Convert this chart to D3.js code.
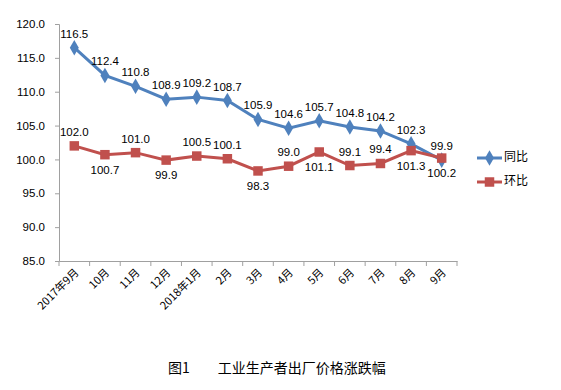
<!DOCTYPE html>
<html><head><meta charset="utf-8">
<script src="https://cdn.jsdelivr.net/npm/d3@7"></script>
<style>body{margin:0;background:#fff}svg{display:block}</style>
</head><body>
<svg id="c" width="561" height="390"></svg>
<script>
const categories = ["2017年9月","10月","11月","12月","2018年1月","2月","3月","4月","5月","6月","7月","8月","9月"];
const yoy = [116.5,112.4,110.8,108.9,109.2,108.7,105.9,104.6,105.7,104.8,104.2,102.3,99.9];
const mom = [102.0,100.7,101.0,99.9,100.5,100.1,98.3,99.0,101.1,99.1,99.4,101.3,100.2];
const momLabelPos = ["a","b","a","b","a","a","b","a","b","a","a","b","b"];
const yTicks = [85,90,95,100,105,110,115,120];
const seriesNames = ["同比","环比"];
const title = "图1\u3000\u3000工业生产者出厂价格涨跌幅";

const svg = d3.select("#c");
const x = d3.scaleBand().domain(categories).range([59,457]);
const y = d3.scaleLinear().domain([85,120]).range([261,24]);
const font = "'Liberation Sans', Arial, sans-serif";
const cjk = "'Noto Sans CJK SC', sans-serif";
const blue = "#4f81bd", red = "#c0504d";

// y axis
const ya = svg.append("g").attr("transform","translate(59,0)")
  .call(d3.axisLeft(y).tickValues(yTicks).tickFormat(d3.format(".1f")).tickSize(4).tickPadding(10));
ya.selectAll("path,line").attr("stroke","#a0a0a0");
ya.selectAll("text").attr("font-family",font).attr("font-size","11.5px").attr("fill","#000");

// x axis
const xa = svg.append("g").attr("transform","translate(0,261)")
  .call(d3.axisBottom(x).tickSize(0).tickFormat(""));
xa.select("path").attr("stroke","#a0a0a0");
const edges = categories.map(c=>x(c)).concat([x.range()[1]]);
svg.append("g").selectAll("line").data(edges).join("line")
  .attr("x1",d=>d).attr("x2",d=>d).attr("y1",261).attr("y2",266).attr("stroke","#a0a0a0");
svg.append("g").selectAll("text").data(categories).join("text")
  .attr("transform",d=>`translate(${x(d)+x.bandwidth()/2+3},${271}) rotate(-45)`)
  .attr("text-anchor","end").attr("dominant-baseline","middle")
  .attr("font-family",cjk).attr("font-size","11px").attr("fill","#000").text(d=>d);

const cx = (d,i)=>x(categories[i])+x.bandwidth()/2;
const line = d3.line().x(cx).y(d=>y(d));

svg.append("path").datum(yoy).attr("d",line).attr("fill","none").attr("stroke",blue).attr("stroke-width",3);
svg.append("path").datum(mom).attr("d",line).attr("fill","none").attr("stroke",red).attr("stroke-width",3);

const diamond = d3.symbol().type(d3.symbolDiamond).size(70);
const square = d3.symbol().type(d3.symbolSquare).size(90);
svg.append("g").selectAll("path").data(yoy).join("path")
  .attr("d",diamond).attr("transform",(d,i)=>`translate(${cx(d,i)},${y(d)})`).attr("fill",blue);
svg.append("g").selectAll("path").data(mom).join("path")
  .attr("d",square).attr("transform",(d,i)=>`translate(${cx(d,i)},${y(d)})`).attr("fill",red);

// labels
svg.append("g").selectAll("text").data(yoy).join("text")
  .attr("x",cx).attr("y",d=>y(d)-10).attr("text-anchor","middle")
  .attr("font-family",font).attr("font-size","11.5px").attr("fill","#000").text(d=>d.toFixed(1));
svg.append("g").selectAll("text").data(mom).join("text")
  .attr("x",cx).attr("y",(d,i)=>momLabelPos[i]==="a"? y(d)-10 : y(d)+19).attr("text-anchor","middle")
  .attr("font-family",font).attr("font-size","11.5px").attr("fill","#000").text(d=>d.toFixed(1));

// legend
const lg = svg.append("g");
[[blue,diamond],[red,square]].forEach(([col,sym],i)=>{
  const ly = 158 + i*24;
  lg.append("line").attr("x1",477).attr("x2",502).attr("y1",ly).attr("y2",ly).attr("stroke",col).attr("stroke-width",3);
  lg.append("path").attr("d",sym).attr("transform",`translate(489.5,${ly})`).attr("fill",col);
  lg.append("text").attr("x",504).attr("y",ly).attr("dominant-baseline","middle")
    .attr("font-family",cjk).attr("font-size","12px").attr("fill","#000").text(seriesNames[i]);
});

svg.append("text").attr("x",168).attr("y",373).attr("font-family",cjk).attr("font-size","14px")
  .attr("fill","#000").text(title);
</script>
</body></html>
